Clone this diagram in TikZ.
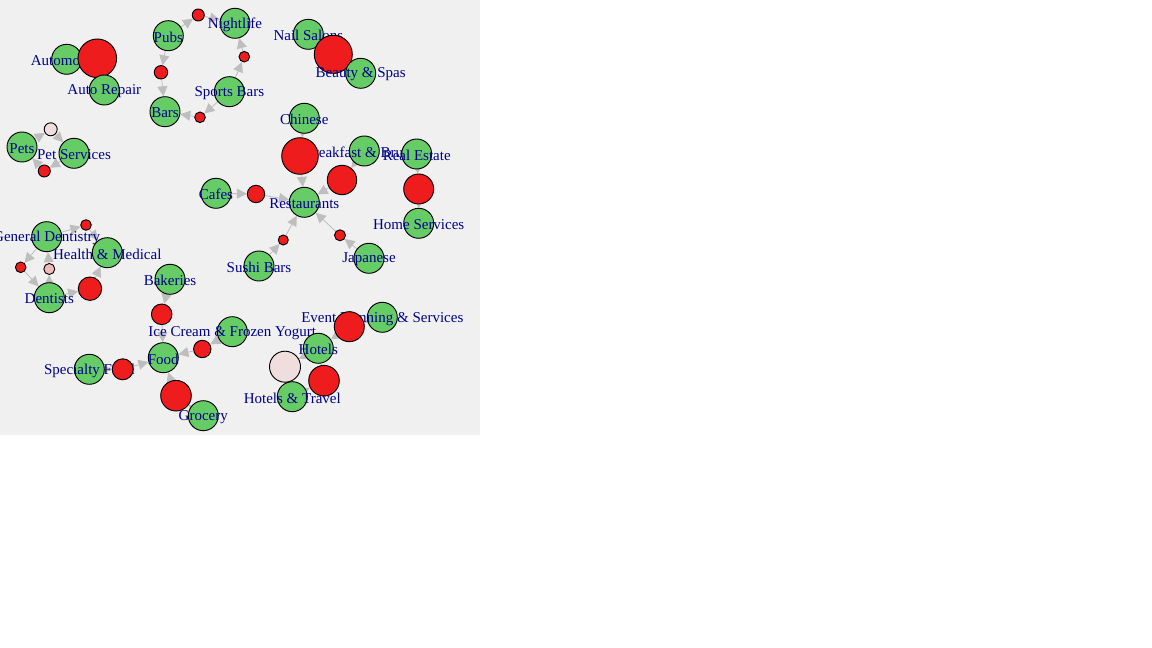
\documentclass[tikz,border=0pt]{standalone}
\usepackage{fontspec}
\setmainfont{Liberation Serif}
\usetikzlibrary{arrows.meta}
\usetikzlibrary{backgrounds}
\definecolor{panel}{RGB}{240,240,240}
\definecolor{catgreen}{RGB}{102,204,102}
\definecolor{rulered}{RGB}{238,28,28}
\definecolor{rulepink}{RGB}{240,186,186}
\definecolor{palepink}{RGB}{240,222,222}
\definecolor{labelblue}{RGB}{0,0,139}
\definecolor{edgegray}{RGB}{190,190,190}

\begin{document}
\begin{tikzpicture}[
		x=0.75pt, y=-0.75pt,
		catnode/.style={circle, draw, fill=catgreen, line width=0.7pt, inner sep=0pt, minimum size=22.5pt},
		rulenode/.style={circle, draw, fill=rulered, line width=0.7pt, inner sep=0pt, minimum size={1.5pt*#1}},
		pinknode/.style={rulenode=#1, fill=rulepink},
		palenode/.style={rulenode=#1, fill=palepink},
		lbl/.style={inner sep=0pt, yshift=-1pt, text=labelblue, font=\fontsize{11.25}{13}\selectfont},
		conn/.style={draw=edgegray, line width=0.6pt, -{Triangle[length=7.5pt, width=7.5pt]}}
	]
	\useasboundingbox (0,0) rectangle (1152,648);

	% automotive
	\node[catnode] (auto) at (66.7,59.3) {};
	\node[lbl] (auto-t) at (auto) {Automotive};
	\node[rulenode=19.3] (r-auto) at (97.3,58.3) {};
	\node[catnode] (repair) at (104.3,90) {};
	\node[lbl] (repair-t) at (repair) {Auto Repair};

	% nightlife
	\node[catnode] (pubs) at (168.3,35.7) {};
	\node[lbl] (pubs-t) at (pubs) {Pubs};
	\node[rulenode=6] (r-pn) at (198.3,15) {};
	\node[catnode] (night) at (235,23.3) {};
	\node[lbl] (night-t) at (night) {Nightlife};
	\node[rulenode=5.3] (r-sn) at (244.3,56.7) {};
	\node[catnode] (sports) at (229.3,91.7) {};
	\node[lbl] (sports-t) at (sports) {Sports Bars};
	\node[rulenode=5.3] (r-sb) at (200,117.3) {};
	\node[rulenode=6.7] (r-pb) at (161,72.3) {};
	\node[catnode] (bars) at (165,111.7) {};
	\node[lbl] (bars-t) at (bars) {Bars};

	% beauty
	\node[catnode] (nail) at (308.3,34.3) {};
	\node[lbl] (nail-t) at (nail) {Nail Salons};
	\node[rulenode=19] (r-beauty) at (333.3,54.3) {};
	\node[catnode] (beauty) at (360.7,73.3) {};
	\node[lbl] (beauty-t) at (beauty) {Beauty \& Spas};

	% pets
	\node[catnode] (pets) at (22,147) {};
	\node[lbl] (pets-t) at (pets) {Pets};
	\node[palenode=6.5] (r-pp) at (50.7,129.3) {};
	\node[rulenode=6] (r-sp) at (44.3,171) {};
	\node[catnode] (petsrv) at (74,153.3) {};
	\node[lbl] (petsrv-t) at (petsrv) {Pet Services};

	% restaurants
	\node[catnode] (chinese) at (304.3,118.3) {};
	\node[lbl] (chinese-t) at (chinese) {Chinese};
	\node[catnode] (brunch) at (364.3,151) {};
	\node[lbl] (brunch-t) at (brunch) {Breakfast \& Brunch};
	\node[rulenode=18.3] (r-chin) at (300,156) {};
	\node[rulenode=14.7] (r-brun) at (342,180) {};
	\node[catnode] (estate) at (416.7,154) {};
	\node[lbl] (estate-t) at (estate) {Real Estate};
	\node[rulenode=15] (r-home) at (418.7,189) {};
	\node[catnode] (home) at (418.7,223.3) {};
	\node[lbl] (home-t) at (home) {Home Services};
	\node[catnode] (cafes) at (216,193.3) {};
	\node[lbl] (cafes-t) at (cafes) {Cafes};
	\node[rulenode=8.7] (r-cafe) at (256,194) {};
	\node[catnode] (rest) at (304.3,202.3) {};
	\node[lbl] (rest-t) at (rest) {Restaurants};
	\node[rulenode=5] (r-sushi) at (283.3,240) {};
	\node[catnode] (sushi) at (259,266) {};
	\node[lbl] (sushi-t) at (sushi) {Sushi Bars};
	\node[rulenode=5.5] (r-jap) at (340,235.3) {};
	\node[catnode] (japan) at (369,258.3) {};
	\node[lbl] (japan-t) at (japan) {Japanese};

	% health
	\node[catnode] (gendent) at (46.7,236.7) {};
	\node[lbl] (gendent-t) at (gendent) {General Dentistry};
	\node[rulenode=5.3] (r-gh) at (86,225) {};
	\node[catnode] (health) at (107.3,252.7) {};
	\node[lbl] (health-t) at (health) {Health \& Medical};
	\node[rulenode=5.3] (r-gd) at (20.7,267.3) {};
	\node[pinknode=5.5] (r-dg) at (49.3,269) {};
	\node[catnode] (dentists) at (49.3,297.7) {};
	\node[lbl] (dentists-t) at (dentists) {Dentists};
	\node[rulenode=11.7] (r-dh) at (90,288.7) {};

	% food
	\node[catnode] (bakery) at (170,279.3) {};
	\node[lbl] (bakery-t) at (bakery) {Bakeries};
	\node[rulenode=10.3] (r-bak) at (161.7,314.3) {};
	\node[catnode] (icecream) at (232.3,331.7) {};
	\node[lbl] (icecream-t) at (icecream) {Ice Cream \& Frozen Yogurt};
	\node[rulenode=8.7] (r-ice) at (202.3,349) {};
	\node[catnode] (special) at (89.3,369.3) {};
	\node[lbl] (special-t) at (special) {Specialty Food};
	\node[rulenode=10.5] (r-spec) at (122.7,369.3) {};
	\node[catnode] (food) at (163.3,357.7) {};
	\node[lbl] (food-t) at (food) {Food};
	\node[rulenode=15.3] (r-groc) at (176,395.7) {};
	\node[catnode] (grocery) at (203.3,415.7) {};
	\node[lbl] (grocery-t) at (grocery) {Grocery};

	% hotels
	\node[catnode] (event) at (382.3,317.3) {};
	\node[lbl] (event-t) at (event) {Event Planning \& Services};
	\node[rulenode=15] (r-event) at (349.3,326.7) {};
	\node[catnode] (hotels) at (318.3,348.3) {};
	\node[lbl] (hotels-t) at (hotels) {Hotels};
	\node[palenode=15.5] (r-ht) at (285,366.7) {};
	\node[rulenode=15.3] (r-th) at (324,380.7) {};
	\node[catnode] (travel) at (292.3,396.7) {};
	\node[lbl] (travel-t) at (travel) {Hotels \& Travel};

	\begin{pgfonlayer}{background}
		\fill[white] (0,0) rectangle (1152,648);
		\fill[panel] (0,0) rectangle (480,435);

		% rules: lhs -> rule -> rhs
		\draw[conn] (auto) -- (r-auto);
		\draw[conn] (r-auto) -- (repair);
		\draw[conn] (pubs) -- (r-pn);
		\draw[conn] (r-pn) -- (night);
		\draw[conn] (sports) -- (r-sn);
		\draw[conn] (r-sn) -- (night);
		\draw[conn] (sports) -- (r-sb);
		\draw[conn] (r-sb) -- (bars);
		\draw[conn] (pubs) -- (r-pb);
		\draw[conn] (r-pb) -- (bars);
		\draw[conn] (nail) -- (r-beauty);
		\draw[conn] (r-beauty) -- (beauty);
		\draw[conn] (pets) -- (r-pp);
		\draw[conn] (r-pp) -- (petsrv);
		\draw[conn] (petsrv) -- (r-sp);
		\draw[conn] (r-sp) -- (pets);
		\draw[conn] (chinese) -- (r-chin);
		\draw[conn] (r-chin) -- (rest);
		\draw[conn] (brunch) -- (r-brun);
		\draw[conn] (r-brun) -- (rest);
		\draw[conn] (estate) -- (r-home);
		\draw[conn] (r-home) -- (home);
		\draw[conn] (cafes) -- (r-cafe);
		\draw[conn] (r-cafe) -- (rest);
		\draw[conn] (sushi) -- (r-sushi);
		\draw[conn] (r-sushi) -- (rest);
		\draw[conn] (japan) -- (r-jap);
		\draw[conn] (r-jap) -- (rest);
		\draw[conn] (gendent) -- (r-gh);
		\draw[conn] (r-gh) -- (health);
		\draw[conn] (gendent) -- (r-gd);
		\draw[conn] (r-gd) -- (dentists);
		\draw[conn] (dentists) -- (r-dg);
		\draw[conn] (r-dg) -- (gendent);
		\draw[conn] (dentists) -- (r-dh);
		\draw[conn] (r-dh) -- (health);
		\draw[conn] (bakery) -- (r-bak);
		\draw[conn] (r-bak) -- (food);
		\draw[conn] (icecream) -- (r-ice);
		\draw[conn] (r-ice) -- (food);
		\draw[conn] (special) -- (r-spec);
		\draw[conn] (r-spec) -- (food);
		\draw[conn] (grocery) -- (r-groc);
		\draw[conn] (r-groc) -- (food);
		\draw[conn] (event) -- (r-event);
		\draw[conn] (r-event) -- (hotels);
		\draw[conn] (hotels) -- (r-ht);
		\draw[conn] (r-ht) -- (travel);
		\draw[conn] (travel) -- (r-th);
		\draw[conn] (r-th) -- (hotels);
	\end{pgfonlayer}
\end{tikzpicture}
\end{document}
